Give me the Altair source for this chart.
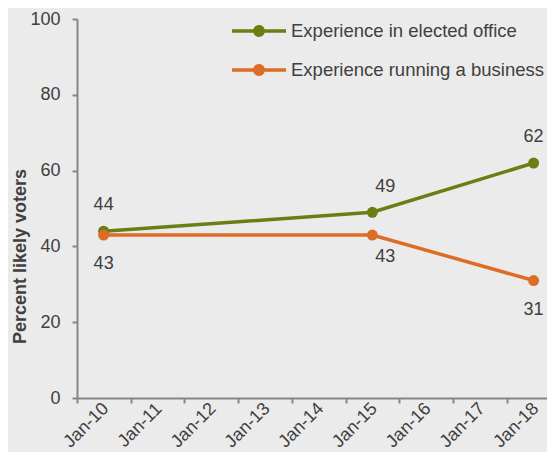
import altair as alt
import pandas as pd

# ---- data ----
series_names = ["Experience in elected office", "Experience running a business"]
dates = ["2010-07-01", "2015-07-01", "2018-07-01"]
elected = [44, 49, 62]
business = [43, 43, 31]
label_pos = ["end", "mid", "end"]
tick_years = [2010, 2011, 2012, 2013, 2014, 2015, 2016, 2017, 2018]
y_ticks = [0, 20, 40, 60, 80, 100]

colors = ["#6A7E14", "#DD6C26"]
text_color = "#404040"
axis_color = "#868686"
FONT = "Liberation Sans"

rows = []
for name, vals in zip(series_names, [elected, business]):
    for d, v, p in zip(dates, vals, label_pos):
        rows.append({"date": d, "value": v, "series": name, "pos": p})
df = pd.DataFrame(rows)

color_scale = alt.Scale(domain=series_names, range=colors)

x_enc = alt.X(
    "date:T",
    scale=alt.Scale(
        type="utc",
        domain=[alt.DateTime(year=2010, month=1, date=1, utc=True),
                alt.DateTime(year=2018, month=9, date=30, utc=True)],
    ),
    axis=alt.Axis(
        values=[alt.DateTime(year=yr, month=1, date=1, utc=True) for yr in tick_years],
        format="%b-%y",
        labelAngle=-45,
        labelAlign="center",
        labelBaseline="middle",
        labelOffset=9,
        labelPadding=22,
        labelOverlap=False,
        labelBound=False,
        labelFont=FONT,
        labelFontSize=18,
        labelColor=text_color,
        tickSize=5,
        tickWidth=2,
        tickColor=axis_color,
        domainColor=axis_color,
        domainWidth=2,
        grid=False,
        title=None,
    ),
)

y_enc = alt.Y(
    "value:Q",
    scale=alt.Scale(domain=[0, 100]),
    axis=alt.Axis(
        values=y_ticks,
        labelFont=FONT,
        labelFontSize=18,
        labelColor=text_color,
        labelPadding=12,
        tickSize=5,
        tickWidth=2,
        tickColor=axis_color,
        domainColor=axis_color,
        domainWidth=2,
        grid=False,
        title="Percent likely voters",
        titleFont=FONT,
        titleFontSize=18,
        titleFontWeight="bold",
        titleColor=text_color,
        titleAngle=-90,
        titleAlign="center",
        titleBaseline="middle",
        titleX=-57,
        titleY=237,
    ),
)

legend_symbol = ("M-1,-0.065H1V0.065H-1Z "
                 "M0.22,0A0.22,0.22 0 1,1 -0.22,0A0.22,0.22 0 1,1 0.22,0Z")

legend = alt.Legend(
    orient="none", legendX=155, legendY=-15, title=None,
    symbolType=legend_symbol, symbolSize=2916, symbolStrokeWidth=0,
    symbolOpacity=1,
    labelFont=FONT, labelFontSize=18.5, labelColor=text_color,
    labelOffset=5, rowPadding=2, labelLimit=400,
)

color_enc = alt.Color("series:N", scale=color_scale, legend=legend)

base = alt.Chart(df)

lines = base.mark_line(strokeWidth=3.5).encode(x=x_enc, y=y_enc, color=color_enc)

points = base.mark_point(filled=True, size=120, opacity=1).encode(
    x=x_enc, y=y_enc, color=color_enc
)


def labels(series, pos, dx, dy):
    return base.transform_filter(
        (alt.datum.series == series) & (alt.datum.pos == pos)
    ).mark_text(
        font=FONT, fontSize=18, color=text_color, dx=dx, dy=dy, baseline="middle"
    ).encode(x=x_enc, y=y_enc, text=alt.Text("value:Q"))


texts = [
    labels(series_names[0], "end", 0, -26),
    labels(series_names[0], "mid", 13, -25),
    labels(series_names[1], "end", 0, 29),
    labels(series_names[1], "mid", 13, 22),
]

chart = alt.layer(lines, points, *texts).properties(
    width=470,
    height=379,
    padding={"left": 69, "top": 11, "right": 0, "bottom": 54},
    autosize=alt.AutoSizeParams(type="none"),
    background="#EBEBEB",
).configure_view(stroke=None)

chart.save("out.html", embed_options={"renderer": "svg", "actions": False})
